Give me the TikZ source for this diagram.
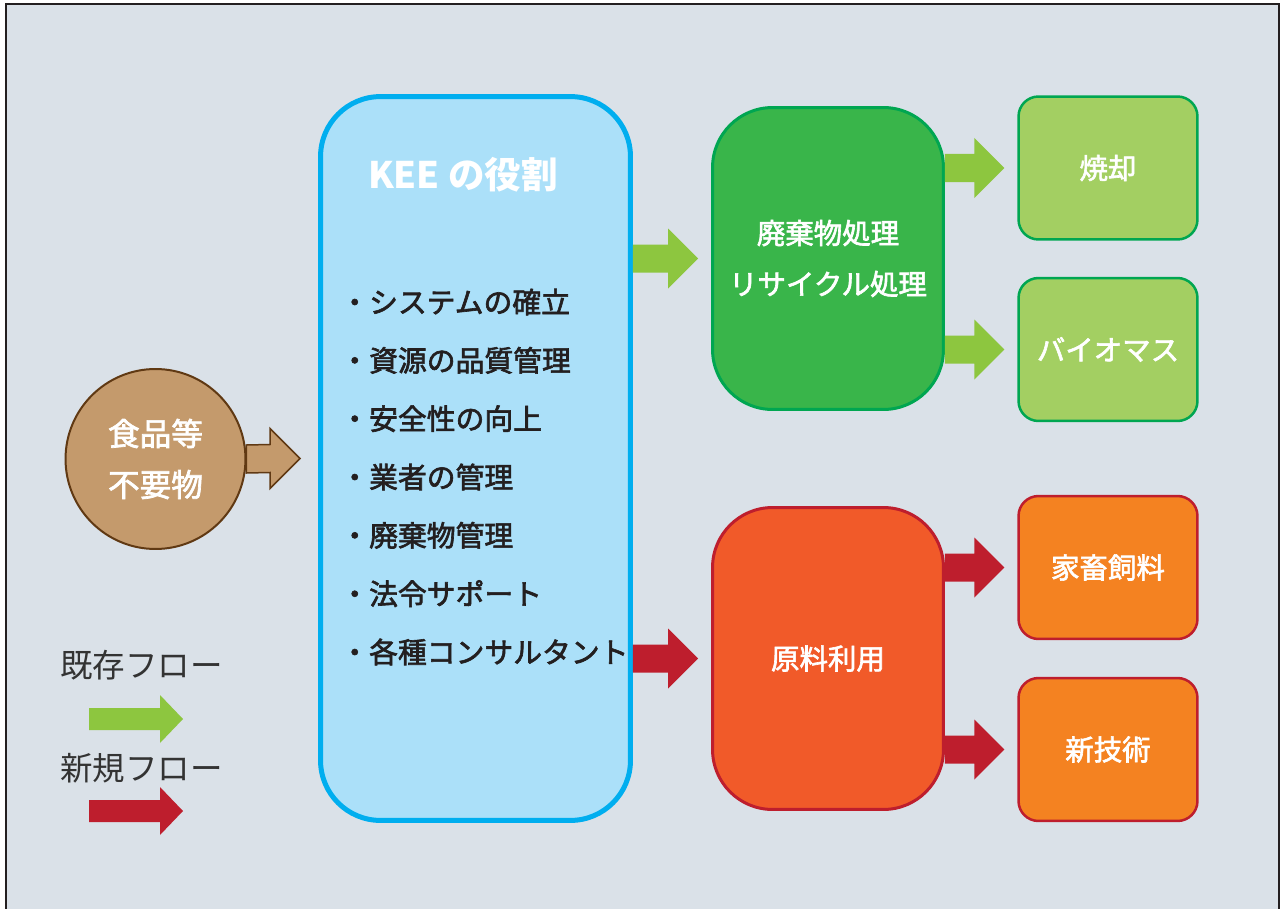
\documentclass[tikz,border=0pt]{standalone}
\usepackage{fontspec}
\setmainfont{Noto Sans CJK JP}
\newfontfamily\cjkmedium{Noto Sans CJK JP}[FakeBold=2.2]
\usetikzlibrary{calc}
\definecolor{bggray}{HTML}{DAE1E8}
\definecolor{inkblack}{HTML}{231F20}
\definecolor{legendgray}{HTML}{333333}
\definecolor{keeblue}{HTML}{00AEEF}
\definecolor{keefill}{HTML}{ABE0F9}
\definecolor{greendark}{HTML}{00A651}
\definecolor{greenfill}{HTML}{39B54A}
\definecolor{lightgreen}{HTML}{A3CF62}
\definecolor{darkred}{HTML}{BE1E2D}
\definecolor{redfill}{HTML}{F15A29}
\definecolor{orangefill}{HTML}{F48221}
\definecolor{flowgreen}{HTML}{8DC63F}
\definecolor{flowred}{HTML}{BE1E2D}
\definecolor{brownfill}{HTML}{C49A6C}
\definecolor{browndark}{HTML}{603913}
\newcommand{\fhead}{30}
\newcommand{\fshaft}{14}
\newcommand{\flen}{30}
% block arrow: style, tail, target, gap before target
\newcommand{\flowarrow}[4][]{%
  \path[#1] ($(#2)+(0,-\fshaft)$) -- ($(#3)+(-#4-\flen,-\fshaft)$)
    -- ($(#3)+(-#4-\flen,-\fhead)$) -- ($(#3)+(-#4,0)$)
    -- ($(#3)+(-#4-\flen,\fhead)$) -- ($(#3)+(-#4-\flen,\fshaft)$)
    -- ($(#2)+(0,\fshaft)$) -- cycle;}

\begin{document}
\begin{tikzpicture}[x=0.02cm,y=-0.02cm,every node/.style={inner sep=0pt},
    bigbox/.style={draw,rounded corners=1.2cm,minimum width=4.62cm,
      minimum height=6.04cm,line width=0.06cm},
    smallbox/.style={draw=darkred,rounded corners=0.4cm,minimum width=3.58cm,
      minimum height=2.86cm,line width=0.05cm},
    whitetext/.style={text=white,font=\cjkmedium\fontsize{16.2}{29}\selectfont,
      align=center},
    listtext/.style={text=inkblack,font=\cjkmedium\fontsize{16.4}{20}\selectfont,anchor=west}]
  \useasboundingbox (0,0) rectangle (1285,909);
  \filldraw[fill=bggray,draw=inkblack,line width=0.03cm] (6,4) rectangle (1279,920);

  \node[circle,draw=browndark,fill=brownfill,line width=0.04cm,minimum size=3.6cm,
    whitetext,font=\cjkmedium\fontsize{18}{29}\selectfont] (food) at (155.5,459)
    {食品等\\不要物};

  \node[draw=keeblue,fill=keefill,rounded corners=1.2cm,line width=0.1cm,
    minimum width=6.2cm,minimum height=14.48cm] (kee) at (475.5,458.5) {};
  \node[text=white,font=\bfseries\fontsize{20.8}{24}\selectfont] (keetitle)
    at (463,175) {KEE の役割};
  \foreach \role [count=\i] in {システムの確立,資源の品質管理,安全性の向上,
      業者の管理,廃棄物管理,法令サポート,各種コンサルタント}
    \node[listtext] (role\i) at (340,{302+58.33*(\i-1)}) {・\role};

  \node[bigbox,draw=greendark,fill=greenfill,whitetext] (waste) at (828,258.5)
    {廃棄物処理\\リサイクル処理};
  \node[bigbox,draw=darkred,fill=redfill,whitetext] (raw) at (828,658.5) {原料利用};

  \node[smallbox,draw=greendark,fill=lightgreen,whitetext] (burn) at (1108,168) {焼却};
  \node[smallbox,draw=greendark,fill=lightgreen,whitetext] (biomass) at (1108,349.5) {バイオマス};
  \node[smallbox,fill=orangefill,whitetext] (feed) at (1108,567.5) {家畜飼料};
  \node[smallbox,fill=orangefill,whitetext] (newtech) at (1108,749.5) {新技術};

  \flowarrow[fill=brownfill,draw=browndark,line width=0.03cm]{food.east}{kee.west}{18}
  \flowarrow[fill=flowgreen]{kee.east |- waste.west}{waste.west}{13}
  \flowarrow[fill=flowred]{kee.east |- raw.west}{raw.west}{13}
  \flowarrow[fill=flowgreen]{waste.east |- burn.west}{burn.west}{13}
  \flowarrow[fill=flowgreen]{waste.east |- biomass.west}{biomass.west}{13}
  \flowarrow[fill=flowred]{raw.east |- feed.west}{feed.west}{13}
  \flowarrow[fill=flowred]{raw.east |- newtech.west}{newtech.west}{13}

  % legend
  \node[text=legendgray,font=\fontsize{18.5}{20}\selectfont] (oldflow) at (141.5,665) {既存フロー};
  \node[text=legendgray,font=\fontsize{18.5}{20}\selectfont] (newflow) at (141.5,768) {新規フロー};
  \coordinate (oldtail) at (89,719);
  \coordinate (oldtip) at (183,719);
  \coordinate (newtail) at (89,811);
  \coordinate (newtip) at (183,811);
  \begin{scope}
    \renewcommand{\fhead}{24}\renewcommand{\fshaft}{11}\renewcommand{\flen}{23}
    \flowarrow[fill=flowgreen]{oldtail}{oldtip}{0}
    \flowarrow[fill=flowred]{newtail}{newtip}{0}
  \end{scope}
\end{tikzpicture}
\end{document}
